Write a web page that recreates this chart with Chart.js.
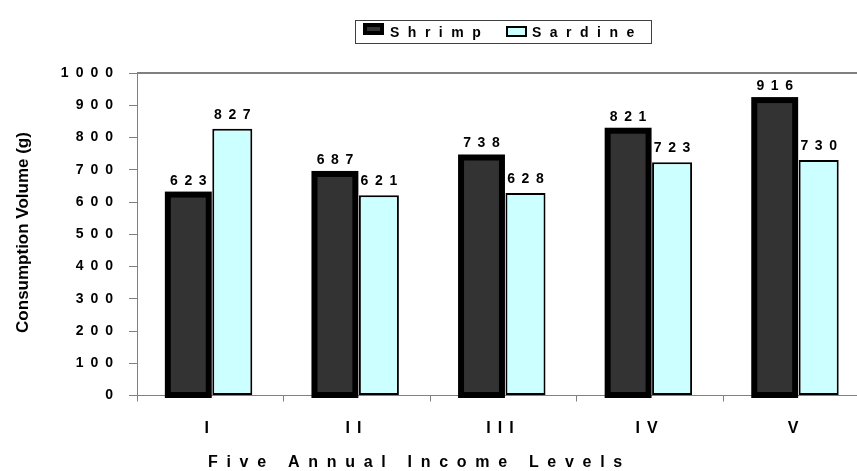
<!DOCTYPE html>
<html>
<head>
<meta charset="utf-8">
<script src="https://cdn.jsdelivr.net/npm/chart.js@4/dist/chart.umd.min.js"></script>
<style>
  html, body { margin: 0; padding: 0; background: #fff; overflow: hidden; }
  #wrap { width: 870px; height: 471px; }
</style>
</head>
<body>
<div id="wrap"><canvas id="myChart" width="870" height="471"></canvas></div>
<script>
const incomeLevels = ["I", "II", "III", "IV", "V"]
const shrimpValues = [623, 687, 738, 821, 916]
const sardineValues = [827, 621, 628, 723, 730]
const seriesNames = ["Shrimp", "Sardine"]
const yMax = 1000
const yStep = 100

const FONT = 'Arial, "Liberation Sans", sans-serif'
const ctx = document.querySelector("#myChart").getContext("2d")

// extra drawing: frame line, thick shrimp outlines, value labels, legend, axis titles
const decorations = {
    id: 'decorations',
    beforeDraw(chart) {
        chart.ctx.letterSpacing = '7px'
    },
    afterDatasetsDraw(chart) {
        const c = chart.ctx
        const area = chart.chartArea
        c.save()
        c.strokeStyle = '#808080'
        c.lineWidth = 2
        c.beginPath()
        c.moveTo(area.left, area.top)
        c.lineTo(area.right, area.top)
        c.stroke()

        c.strokeStyle = '#000'
        c.lineWidth = 6
        chart.getDatasetMeta(0).data.forEach(bar => {
            const { x, y, base, width } = bar.getProps(['x', 'y', 'base', 'width'], true)
            c.strokeRect(x - width / 2, y, width, base - y)
        })

        c.font = 'bold 14px ' + FONT
        c.letterSpacing = '6.6px'
        c.textAlign = 'center'
        c.textBaseline = 'alphabetic'
        c.fillStyle = '#000'
        chart.data.datasets.forEach((ds, i) => {
            chart.getDatasetMeta(i).data.forEach((bar, j) => {
                c.fillText(String(ds.data[j]), bar.x + 3.3, bar.y - 10)
            })
        })
        c.restore()
    },
    afterDraw(chart) {
        const c = chart.ctx
        c.save()
        // legend
        c.strokeStyle = '#404040'
        c.lineWidth = 1
        c.strokeRect(355.5, 20.5, 296, 23)
        const ds = chart.data.datasets
        c.fillStyle = '#000'
        c.fillRect(363, 23, 21, 12)
        c.fillStyle = ds[0].backgroundColor
        c.fillRect(367, 27, 13, 4)
        c.fillStyle = ds[1].backgroundColor
        c.fillRect(507, 27, 19, 9)
        c.strokeStyle = '#000'
        c.lineWidth = 2
        c.strokeRect(507, 27, 19, 9)
        c.fillStyle = '#000'
        c.font = 'bold 14px ' + FONT
        c.letterSpacing = '8.5px'
        c.textAlign = 'left'
        c.textBaseline = 'alphabetic'
        c.fillText(ds[0].label, 390, 37)
        c.fillText(ds[1].label, 532, 37)

        // x axis title
        c.font = 'bold 16px ' + FONT
        c.letterSpacing = '8.7px'
        c.textAlign = 'left'
        c.fillText('Five Annual Income Levels', 208, 467)

        // y axis title
        c.letterSpacing = '0px'
        c.font = 'bold 17px ' + FONT
        c.translate(23, 232.5)
        c.rotate(-Math.PI / 2)
        c.textAlign = 'center'
        c.textBaseline = 'middle'
        c.fillText('Consumption Volume (g)', 0, 0)
        c.restore()
    }
}

const consumptionChart = new Chart(ctx, {
    type: 'bar',
    data: {
        labels: incomeLevels,
        datasets: [{
            label: seriesNames[0],
            data: shrimpValues,
            backgroundColor: '#333333',
            borderWidth: 0,
            barPercentage: 0.93,
            categoryPercentage: 0.6
        }, {
            label: seriesNames[1],
            data: sardineValues,
            backgroundColor: '#CCFFFF',
            borderColor: '#000000',
            borderWidth: 2,
            borderSkipped: false,
            barPercentage: 0.91,
            categoryPercentage: 0.6
        }]
    },
    options: {
        responsive: false,
        animation: false,
        layout: { padding: { top: 73, left: 0, right: 0, bottom: 0 } },
        plugins: {
            legend: { display: false },
            tooltip: { enabled: false }
        },
        scales: {
            x: {
                afterFit(scale) { scale.height = 75.5 },
                grid: { drawOnChartArea: false, tickLength: 6, color: '#808080' },
                border: { color: '#808080', width: 1 },
                ticks: { color: '#000', padding: 17, font: { family: FONT, size: 16, weight: 'bold' } }
            },
            y: {
                min: 0,
                max: yMax,
                afterFit(scale) { scale.width = 137 },
                grid: { drawOnChartArea: false, tickLength: 8, color: '#808080' },
                border: { color: '#808080', width: 1 },
                ticks: {
                    stepSize: yStep,
                    color: '#000',
                    padding: 9,
                    font: { family: FONT, size: 14, weight: 'bold' },
                    callback: v => String(v)
                }
            }
        }
    },
    plugins: [decorations]
})
</script>
</body>
</html>
